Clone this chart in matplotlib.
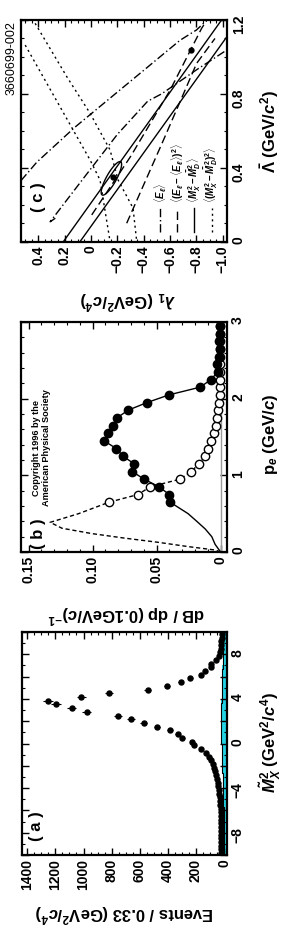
import numpy as np
import matplotlib
matplotlib.use("Agg")
import matplotlib.pyplot as plt
from matplotlib.ticker import MultipleLocator, FuncFormatter

# ---- data: panel (a) M_X^2 distribution (bins of 1/3 GeV^2, -10..10) ----
m2_centers = np.arange(60) / 3.0 - 10 + 1 / 6.0
events = [19, 20, 19, 20, 21, 20, 22, 21, 23, 22, 24, 25, 25, 27, 28, 30, 33, 36, 41, 46,
          52, 58, 66, 74, 82, 94, 104, 128, 163, 216, 226, 296, 329, 384, 479, 571, 662, 756, 977, 1084,
          1197, 1254, 1017, 818, 543, 407, 308, 239, 163, 133, 90, 92, 57, 37, 26, 22, 20, 19, 18, 18]
bkg = [2, 2, 2, 2, 3, 2, 3, 2, 3, 3, 2, 3, 3, 2, 4, 5, 6, 7, 8, 9,
       9, 10, 10, 11, 11, 12, 13, 14, 15, 16, 18, 20, 19, 21, 20, 22, 20, 21, 19, 22,
       20, 21, 18, 17, 18, 16, 17, 15, 16, 14, 12, 10, 8, 7, 6, 6, 5, 5, 5, 5]

# ---- panel (b): lepton spectra ----
pe_bins = np.round(np.arange(0.65, 3.0, 0.1), 2)
rate_primary = [0.0392, 0.0402, 0.0480, 0.0598, 0.0691, 0.0676, 0.0762, 0.0816, 0.0910, 0.0879,
                0.0840, 0.0809, 0.0723, 0.0574, 0.0402, 0.0160, 0.0074, 0.0023, 0.0027, 0.0012,
                0.0008, 0.0010, 0.0008, 0.0008]
rate_secondary = [0.0871, 0.0645, 0.0551, 0.0316, 0.0230, 0.0168, 0.0121, 0.0098, 0.0074, 0.0055,
                  0.0039, 0.0027, 0.0020, 0.0012, 0.0008, 0.0008, 0.0008, 0.0008, 0.0008, 0.0008,
                  0.0008, 0.0008, 0.0008, 0.0008]
model_p = [0.0, 0.1, 0.2, 0.3, 0.4, 0.5, 0.6]
model_primary = [0.0, 0.0043, 0.0069, 0.012, 0.0186, 0.0254, 0.0348]
model_sec_p = [0.0, 0.026, 0.07, 0.126, 0.18, 0.24, 0.31, 0.387, 0.5]
model_secondary = [0.0, 0.0043, 0.0252, 0.0486, 0.0746, 0.1006, 0.124, 0.1332, 0.111]

# ---- panel (c): constraint curves in (lambda1, Lambda-bar) ----
solid_a = ([0.208, -0.99], [0.0, 1.2])
solid_b = ([0.082, -1.04], [0.0, 1.119])
dashdot_a = ([0.53, 0.41, 0.12, -0.675, -0.80, -0.88], [0.33, 0.43, 0.62, 1.09, 1.146, 1.2])
dashdot_b = ([0.27, 0.309, 0.057, -0.2, -0.43, -0.536, -0.8, -1.035],
             [0.126, 0.107, 0.342, 0.58, 0.76, 0.80, 0.93, 1.04])
dashed_a = ([-0.006, -0.3, -0.6, -0.839, -0.88], [0.144, 0.46, 0.82, 1.155, 1.2])
dashed_b = ([-0.271, -0.55, -0.801, -0.94], [0.099, 0.55, 0.965, 1.10])
dotted_a = ([0.423, 0.183, 0.006, -0.145, -0.206, -0.319, -0.347],
            [1.182, 0.893, 0.694, 0.496, 0.333, 0.181, 0.0])
dotted_b = ([0.498, 0.006, -0.069, -0.145], [1.064, 0.441, 0.333, 0.0])
best_fit = ([-0.17, -0.76], [0.35, 1.04])

W, H = 294, 934
plt.rcParams.update({
    'font.family': ['Liberation Sans', 'DejaVu Sans'],
    'font.weight': 'bold',
    'font.size': 10,
    'mathtext.fontset': 'custom',
    'mathtext.rm': 'Liberation Sans:bold',
    'mathtext.it': 'Liberation Sans:bold:italic',
    'mathtext.bf': 'Liberation Sans:bold',
    'axes.linewidth': 1.6,
})

fig = plt.figure(figsize=(W / 100, H / 100), dpi=100)


def box(x0, y0, x1, y1):
    return [x0 / W, 1 - y1 / H, (x1 - x0) / W, (y1 - y0) / H]


def ftext(x, y, s, **kw):
    fig.text(x / W, 1 - y / H, s, **kw)


def style(ax, xmaj, xmin, ymaj, ymin, yfmt=None, xfmt=None):
    ax.xaxis.set_major_locator(MultipleLocator(xmaj))
    ax.xaxis.set_minor_locator(MultipleLocator(xmin))
    ax.yaxis.set_major_locator(MultipleLocator(ymaj))
    ax.yaxis.set_minor_locator(MultipleLocator(ymin))
    ax.tick_params(which='both', direction='in', top=True, bottom=True, left=True, right=True,
                   labelleft=False, labelright=True, labelrotation=90, labelsize=10, pad=3)
    ax.tick_params(which='major', length=5, width=1.0)
    ax.tick_params(which='minor', length=2.5, width=0.8)
    if yfmt:
        ax.yaxis.set_major_formatter(FuncFormatter(yfmt))
    if xfmt:
        ax.xaxis.set_major_formatter(FuncFormatter(xfmt))


# ---------------- panel (a) ----------------
ax_a = fig.add_axes(box(21.7, 632, 226.7, 855))
edges = np.append(m2_centers - 1 / 6.0, m2_centers[-1] + 1 / 6.0)
bk_steps = np.append(bkg, bkg[-1])
ax_a.fill_betweenx(edges, bk_steps, -19, step='post', color='#22d3e6', lw=0)
ax_a.step(bk_steps, edges, where='post', color='black', lw=0.8)
ax_a.errorbar(events, m2_centers, xerr=np.sqrt(events), fmt='o', ms=3.6, color='black',
              elinewidth=0.8, capsize=0)
ax_a.set_xlim(1440, -19)
ax_a.set_ylim(-10, 10)
style(ax_a, 200, 50, 2, 1,
      yfmt=lambda v, p: (f'{v:.0f}'.replace('-', '\u2212') if abs(v) % 4 == 0 else ''),
      xfmt=lambda v, p: f'{v:.0f}')
ax_a.text(0.07, 0.13, '( a )', rotation=90, transform=ax_a.transAxes, fontsize=12,
          ha='center', va='center')

# ---------------- panel (b) ----------------
ax_b = fig.add_axes(box(21, 322, 227, 552))
ax_b.axvline(0, color='#999999', lw=1.0)
ax_b.plot(model_primary + rate_primary[:18], model_p + list(pe_bins[:18]), color='black', lw=1.0)
ax_b.plot(model_secondary + rate_secondary, model_sec_p + list(pe_bins), color='black', lw=1.0,
          ls=(0, (3, 2)))
ax_b.errorbar(rate_primary, pe_bins, xerr=0.003, fmt='o', ms=6, color='black', elinewidth=0.8)
ax_b.plot(rate_secondary, pe_bins, 'o', ms=6, mfc='white', mec='black', mew=1.0)
ax_b.set_xlim(0.156, -0.005)
ax_b.set_ylim(0, 3)
style(ax_b, 0.05, 0.01, 1, 0.2,
      xfmt=lambda v, p: ('0' if abs(v) < 1e-9 else f'{v:.2f}'),
      yfmt=lambda v, p: f'{v:.0f}')
ax_b.text(0.085, 0.08, '( b )', rotation=90, transform=ax_b.transAxes, fontsize=12,
          ha='center', va='center')
ax_b.text(0.1, 0.2, 'Copyright 1996 by the\nAmerican Physical Society', rotation=90,
          transform=ax_b.transAxes, fontsize=6.6, ha='center', va='bottom',
          linespacing=1.1)

# ---------------- panel (c) ----------------
ax_c = fig.add_axes(box(21, 20, 227.5, 241.5))
for xs, ys in (solid_a, solid_b):
    ax_c.plot(xs, ys, color='black', lw=1.0)
for xs, ys in (dashdot_a, dashdot_b):
    ax_c.plot(xs, ys, color='black', lw=1.0, ls=(0, (6, 2, 1, 2)))
for xs, ys in (dashed_a, dashed_b):
    ax_c.plot(xs, ys, color='black', lw=1.0, ls=(0, (6, 3)))
for xs, ys in (dotted_a, dotted_b):
    ax_c.plot(xs, ys, color='black', lw=1.0, ls=(0, (1.5, 2.5)))
ax_c.plot(best_fit[0], best_fit[1], 'o', ms=3.5, color='black')
t = np.linspace(0, 2 * np.pi, 100)
ax_c.plot(-0.155 - 0.07 * np.cos(t) - 0.033 * np.sin(t),
          0.342 + 0.09 * np.cos(t) - 0.013 * np.sin(t), color='black', lw=1.0)
ax_c.set_xlim(0.53, -1.035)
ax_c.set_ylim(0, 1.2)
style(ax_c, 0.2, 0.05, 0.4, 0.1,
      xfmt=lambda v, p: ('0' if abs(v) < 1e-9 else f'{v:.1f}'.replace('-', '\u2212')),
      yfmt=lambda v, p: ('0' if abs(v) < 1e-9 else f'{v:.1f}'))
ax_c.text(0.085, 0.2, '( c )', rotation=90, transform=ax_c.transAxes, fontsize=12,
          ha='center', va='center')

leg = [(r'$\langle E_\ell\rangle$', (0, (6, 2, 1, 2))),
       (r'$\langle(E_\ell-\langle E_\ell\rangle)^2\rangle$', (0, (6, 3))),
       (r'$\langle M_X^2-\bar{M}_D^2\rangle$', '-'),
       (r'$\langle(M_X^2-\bar{M}_D^2)^2\rangle$', (0, (1.5, 2.5)))]
for i, (lab, ls) in enumerate(leg):
    xpx = 160 + i * 17.2
    ax_c.plot([0.4 - (xpx - 38) / 132.1] * 2, [0.05, 0.18], color='black', lw=1.0, ls=ls)
    ftext(xpx, 203, lab, rotation=90, fontsize=7, ha='center', va='bottom')

ftext(12, 21, '3660699-002', rotation=90, fontsize=9, fontweight='normal', ha='center', va='top')

# axis titles
ftext(270, 743, r'$\tilde{M}_X^2$ (GeV$^2$/$c^4$)', rotation=90, fontsize=12, ha='center', va='center')
ftext(270, 434, r'p$_e$ (GeV/$c$)', rotation=90, fontsize=12, ha='center', va='center')
ftext(270, 132, r'$\bar{\Lambda}$ (GeV/$c^2$)', rotation=90, fontsize=12, ha='center', va='center')
ftext(124, 913, r'Events / 0.33 (GeV$^2$/$c^4$)', rotation=180, fontsize=12, ha='center', va='center')
ftext(126, 614, r'dB / dp (0.1GeV/$c$)$^{-1}$', rotation=180, fontsize=12, ha='center', va='center')
ftext(127, 300, r'$\lambda_1$ (GeV$^2$/$c^4$)', rotation=180, fontsize=12, ha='center', va='center')

fig.savefig('out.png', dpi=100)
